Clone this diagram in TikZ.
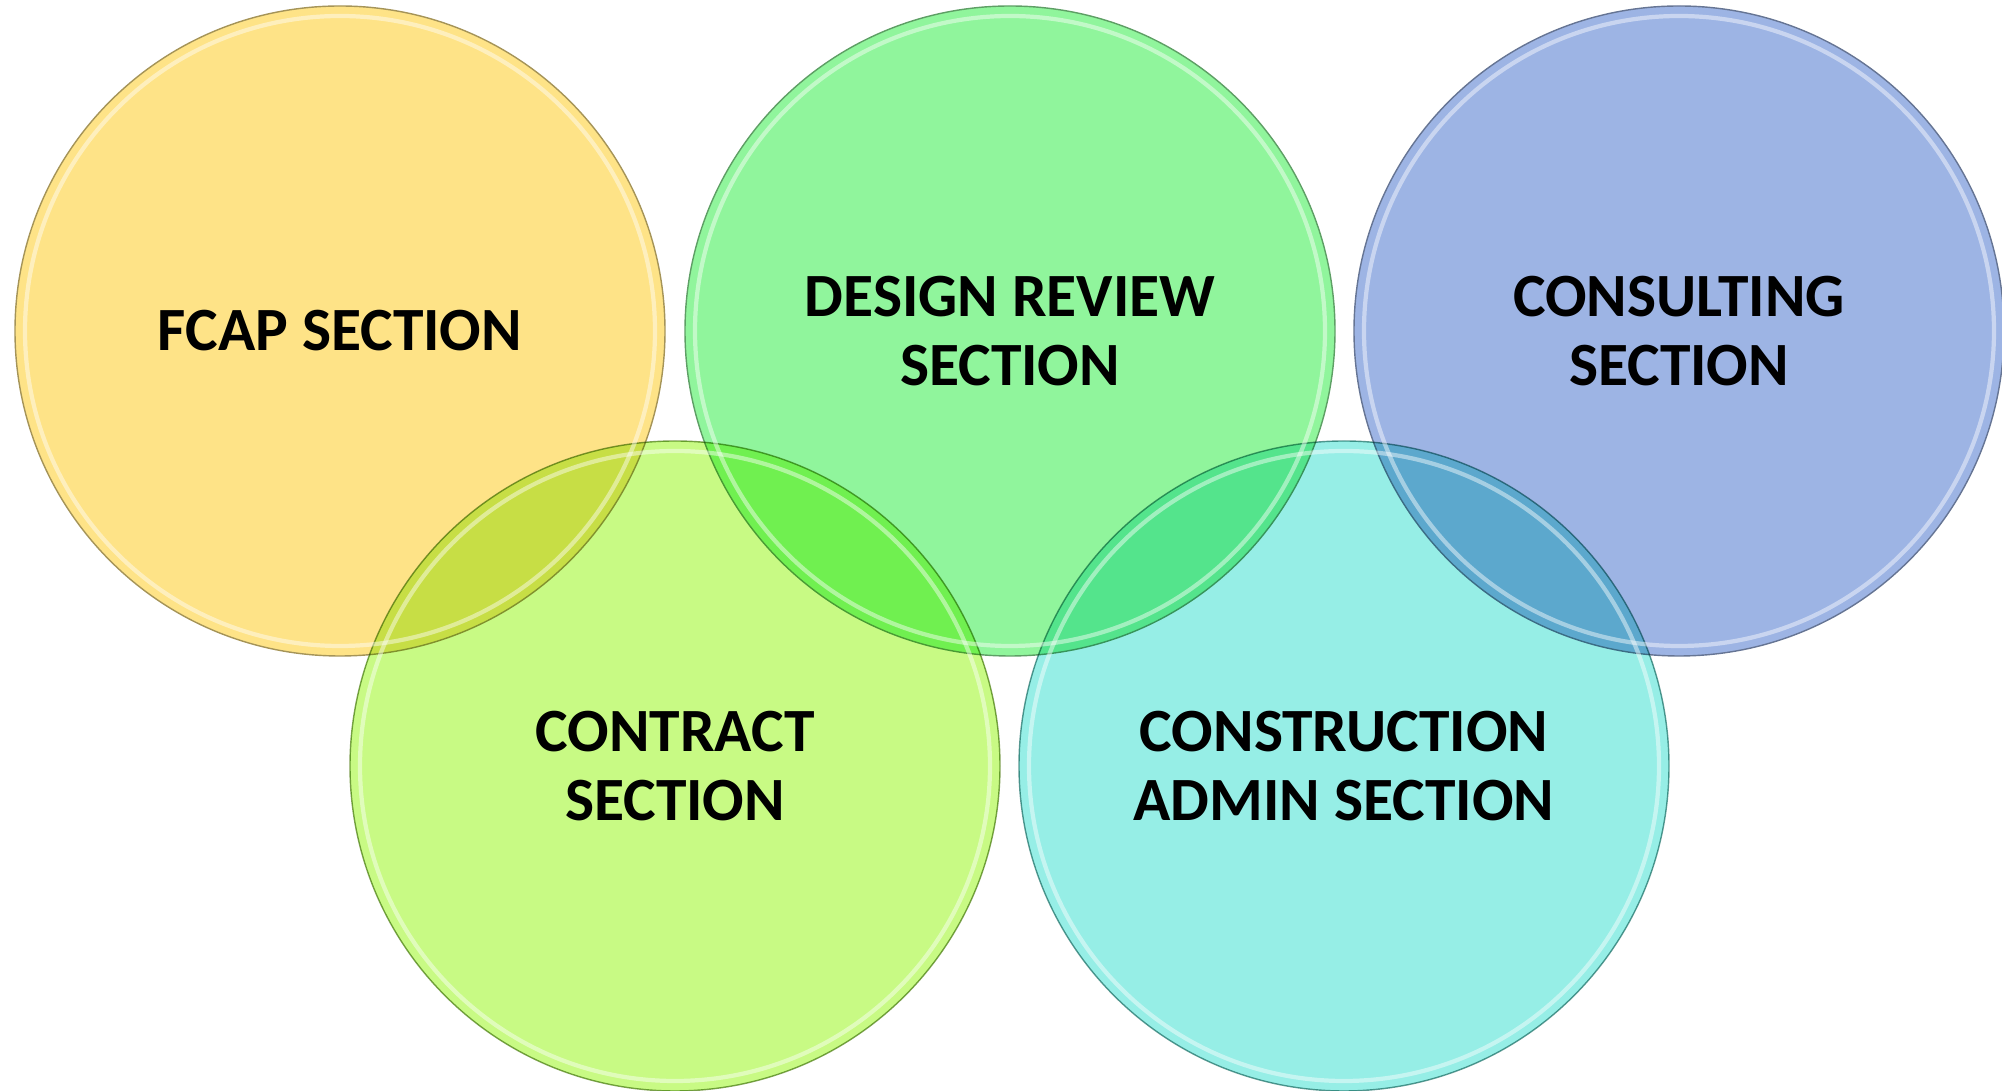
\documentclass[tikz,border=0pt]{standalone}
\usepackage{fontspec}
\setmainfont{Carlito}

\definecolor{fcapyellow}{HTML}{FEE387}
\definecolor{designgreen}{HTML}{90F59C}
\definecolor{consultblue}{HTML}{9DB4E4}
\definecolor{contractlime}{HTML}{C8FA84}
\definecolor{constrcyan}{HTML}{96EEE6}

\begin{document}
\begin{tikzpicture}[
    section/.style={circle, minimum size=6.5cm, inner sep=0pt,
        draw=#1!65!black, line width=0.4pt, fill=#1,
        align=center, font=\fontsize{17.5}{19.8}\selectfont\bfseries},
    rim/.style={white, line width=1.2pt, opacity=0.45}
]
    \useasboundingbox (0,0) rectangle (20.02,10.91);

    % obere Reihe
    \node[section=fcapyellow] (fcap) at (3.40,7.60) {FCAP SECTION};
    \node[section=designgreen] (design) at (10.10,7.60) {DESIGN REVIEW\\SECTION};
    \node[section=consultblue] (consult) at (16.79,7.60) {CONSULTING\\SECTION};

    % untere Reihe, multipliziert mit der oberen
    \begin{scope}[blend mode=multiply]
        \node[section=contractlime] (contract) at (6.75,3.25) {CONTRACT\\SECTION};
        \node[section=constrcyan] (construction) at (13.44,3.25) {CONSTRUCTION\\ADMIN SECTION};
    \end{scope}

    % Glanzrand
    \foreach \n in {fcap,design,consult,contract,construction} {
        \draw[rim] (\n.center) circle (3.15);
    }
\end{tikzpicture}
\end{document}
